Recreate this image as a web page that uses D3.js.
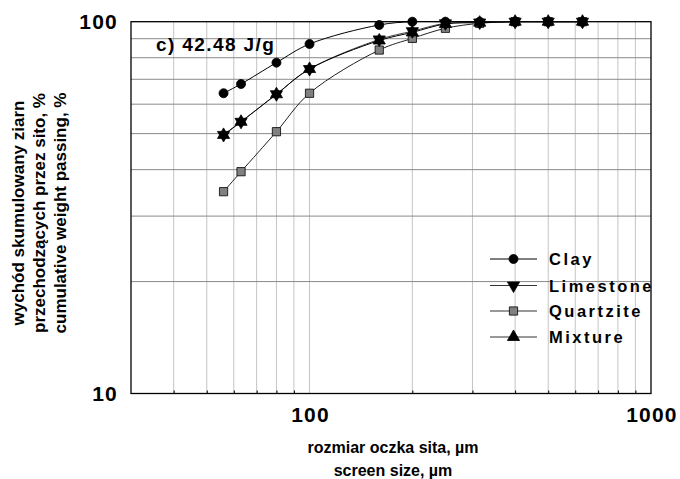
<!DOCTYPE html>
<html><head><meta charset="utf-8">
<script src="https://cdn.jsdelivr.net/npm/d3@7"></script>
<style>body{margin:0;background:#fff}svg{display:block}text{font-family:"Liberation Sans",Arial,sans-serif;font-weight:bold;fill:#000}</style>
</head><body>
<svg id="c" width="680" height="479"></svg>
<script>
const sizes = [56, 63, 80, 100, 160, 200, 250, 315, 400, 500, 630];
const clay = [64.2, 68.0, 77.6, 87.1, 98.0, 100, 100, 100, 100, 100, 100];
const limestone = [49.6, 53.8, 63.8, 74.6, 89.6, 94.3, 99.0, 99.5, 100, 100, 100];
const quartzite = [34.9, 39.5, 50.6, 64.2, 83.9, 90.2, 96.0, 99.0, 100, 100, 100];
const mixture = [49.6, 53.8, 63.8, 74.6, 89.0, 93.6, 98.6, 99.4, 100, 100, 100];
const seriesNames = ["Clay", "Limestone", "Quartzite", "Mixture"];
const xTickLabels = [100, 1000];
const yTickLabels = [10, 100];
const xGrid = [40, 50, 60, 70, 80, 90, 100, 200, 300, 400, 500, 600, 700, 800, 900];
const yGrid = [20, 30, 40, 50, 60, 70, 80, 90];

const svg = d3.select("#c");
const L = 131, R = 651, T = 21.7, B = 393.5;
const x = d3.scaleLog().domain([30, 1000]).range([L, R]);
const y = d3.scaleLog().domain([10, 100]).range([B, T]);

// gridlines
svg.append("g").selectAll("line").data(xGrid).join("line")
  .attr("x1", d => x(d)).attr("x2", d => x(d)).attr("y1", T).attr("y2", B)
  .attr("stroke", "#c4c4c4").attr("stroke-width", 1);
svg.append("g").selectAll("line").data(yGrid).join("line")
  .attr("x1", L).attr("x2", R).attr("y1", d => y(d)).attr("y2", d => y(d))
  .attr("stroke", "#8a8a8a").attr("stroke-width", 1);

// bottom minor ticks (inward)
const xAxis = d3.axisBottom(x).tickValues(xGrid.filter(d => d !== 100)).tickSize(-3).tickFormat("");
const gx = svg.append("g").attr("transform", `translate(0,${B})`).call(xAxis);
gx.select(".domain").remove();
gx.selectAll("line").attr("stroke", "#000");

// border
svg.append("rect").attr("x", L).attr("y", T).attr("width", R - L).attr("height", B - T)
  .attr("fill", "none").attr("stroke", "#000").attr("stroke-width", 1.3);

// tick labels
svg.append("g").selectAll("text").data(xTickLabels).join("text")
  .attr("x", d => x(d) + 1).attr("y", 422).attr("text-anchor", "middle")
  .style("font-size", "21px").style("letter-spacing", "1.2px").text(d => d);
svg.append("g").selectAll("text").data(yTickLabels).join("text")
  .attr("x", 118).attr("y", d => y(d) + 7.5).attr("text-anchor", "end")
  .style("font-size", "21px").style("letter-spacing", "1.2px").text(d => d);

// axis titles
const cx = (L + R) / 2;
svg.append("text").attr("x", cx + 2).attr("y", 453).attr("text-anchor", "middle")
  .style("font-size", "16px").text("rozmiar oczka sita, µm");
svg.append("text").attr("x", cx + 2).attr("y", 476).attr("text-anchor", "middle")
  .style("font-size", "16px").text("screen size, µm");
const cy = 213;
const yTitles = ["wychód skumulowany ziarn", "przechodzących przez sito, %", "cumulative weight passing, %"];
svg.append("g").selectAll("text").data(yTitles).join("text")
  .attr("transform", (d, i) => `translate(${24 + i * 21},${cy}) rotate(-90)`)
  .attr("text-anchor", "middle").style("font-size", "17px").text(d => d);

// annotation
svg.append("text").attr("x", 156).attr("y", 51).style("font-size", "19px")
  .style("letter-spacing", "1.4px").text("c) 42.48 J/g");

// series
const data = [clay, limestone, quartzite, mixture];
const lineColors = ["#000", "#444", "#222", "#000"];
const line = d3.line().x(d => x(d[0])).y(d => y(d[1])).curve(d3.curveCatmullRom.alpha(0.5));
const sym = [d3.symbolCircle, d3.symbolTriangle, d3.symbolSquare, d3.symbolTriangle];
const symSize = [64, 64, 68, 64];
const symFill = ["#000", "#000", "#808080", "#000"];
const symRot = [0, 180, 0, 0];

data.forEach((vals, i) => {
  const pts = sizes.map((s, j) => [s, vals[j]]);
  svg.append("path").datum(pts).attr("d", line).attr("fill", "none")
    .attr("stroke", lineColors[i]).attr("stroke-width", 1);
});
[2, 0, 1, 3].forEach(i => {
  const pts = sizes.map((s, j) => [s, data[i][j]]);
  svg.append("g").selectAll("path").data(pts).join("path")
    .attr("d", d3.symbol().type(sym[i]).size(symSize[i]))
    .attr("transform", d => `translate(${x(d[0])},${y(d[1])}) rotate(${symRot[i]})`)
    .attr("fill", symFill[i]).attr("stroke", "#000").attr("stroke-width", 0.8);
});

// legend
const legY = [259, 285.5, 311, 337];
const lg = svg.append("g");
seriesNames.forEach((n, i) => {
  lg.append("line").attr("x1", 490).attr("x2", 537).attr("y1", legY[i]).attr("y2", legY[i])
    .attr("stroke", i === 0 ? "#000" : "#333").attr("stroke-width", 1);
  lg.append("path").attr("d", d3.symbol().type(sym[i]).size(symSize[i])())
    .attr("transform", `translate(513.5,${legY[i]}) rotate(${symRot[i]})`)
    .attr("fill", symFill[i]).attr("stroke", "#000").attr("stroke-width", 0.8);
  lg.append("text").attr("x", 549).attr("y", legY[i] + 6).style("font-size", "16.5px")
    .style("letter-spacing", "2.5px").text(n);
});
</script>
</body></html>
